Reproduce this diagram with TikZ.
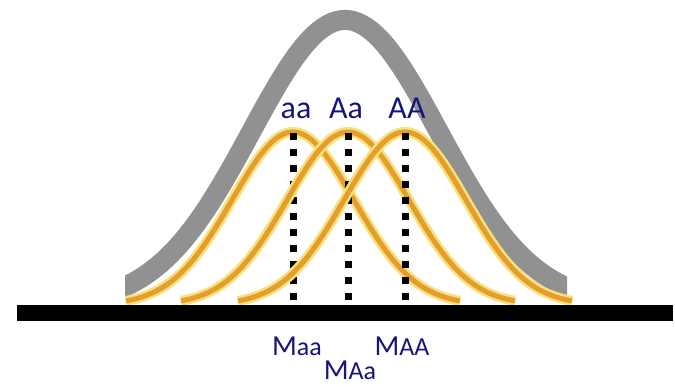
\documentclass[tikz,border=0pt]{standalone}
\usepackage{fontspec}
\setmainfont{Carlito}
\usepackage{tikz}
\usetikzlibrary{positioning}
\definecolor{envgray}{HTML}{919191}
\definecolor{genegold}{HTML}{E39E2C}
\definecolor{geneglow}{HTML}{F7E07E}
\definecolor{labelnavy}{HTML}{15157A}
\newcommand{\meanM}[1]{{\fontsize{29}{30}\selectfont M}#1}

\begin{document}
\begin{tikzpicture}[x=1pt,y=-1pt,
  envelope/.style={line width=20pt,envgray},
  glow/.style={line width=10pt,geneglow},
  genotype/.style={line width=5pt,genegold},
  meanline/.style={line width=7pt,dash pattern=on 7pt off 9pt},
  lbl/.style={labelnavy,inner sep=0pt,anchor=base,text depth=0pt,font=\fontsize{26}{28}\selectfont},
  toplbl/.style={lbl,font=\fontsize{32}{34}\selectfont}]
  \useasboundingbox (0,0) rectangle (675,386);
  % whole population
  \begin{scope}
    \clip (125,0) rectangle (567,305);
    \draw[envelope,domain=100:590,samples=140] plot (\x,{305-285*exp(-0.5*((\x-345)/94)^2)});
  \end{scope}
  % one curve per genotype, mean marked by a dotted line
  \foreach \g/\c in {aa/293,Aa/348,AA/405}{
    \pgfmathsetmacro{\lo}{\c-167}
    \pgfmathsetmacro{\hi}{\c+167}
    \draw[glow,domain=\lo:\hi,samples=100] plot (\x,{305-173*exp(-0.5*((\x-\c)/61)^2)});
    \draw[genotype,domain=\lo:\hi,samples=100] plot (\x,{305-173*exp(-0.5*((\x-\c)/61)^2)});
    \coordinate (peak\g) at (\c,133);
    \coordinate (foot\g) at (\c,305);
    \draw[meanline] (peak\g) -- (foot\g);
  }
  \fill (17,305) rectangle (673,321);
  \node[toplbl] (nameaa) at (296,118) {aa};
  \node[toplbl] (nameAa) at (346,118) {Aa};
  \node[toplbl] (nameAA) at (407,118) {AA};
  \node[lbl] (meanaa) at (297,355) {\meanM{aa}};
  \node[lbl] (meanAa) at (350,379) {\meanM{Aa}};
  \node[lbl] (meanAA) at (402,355) {\meanM{AA}};
\end{tikzpicture}
\end{document}
